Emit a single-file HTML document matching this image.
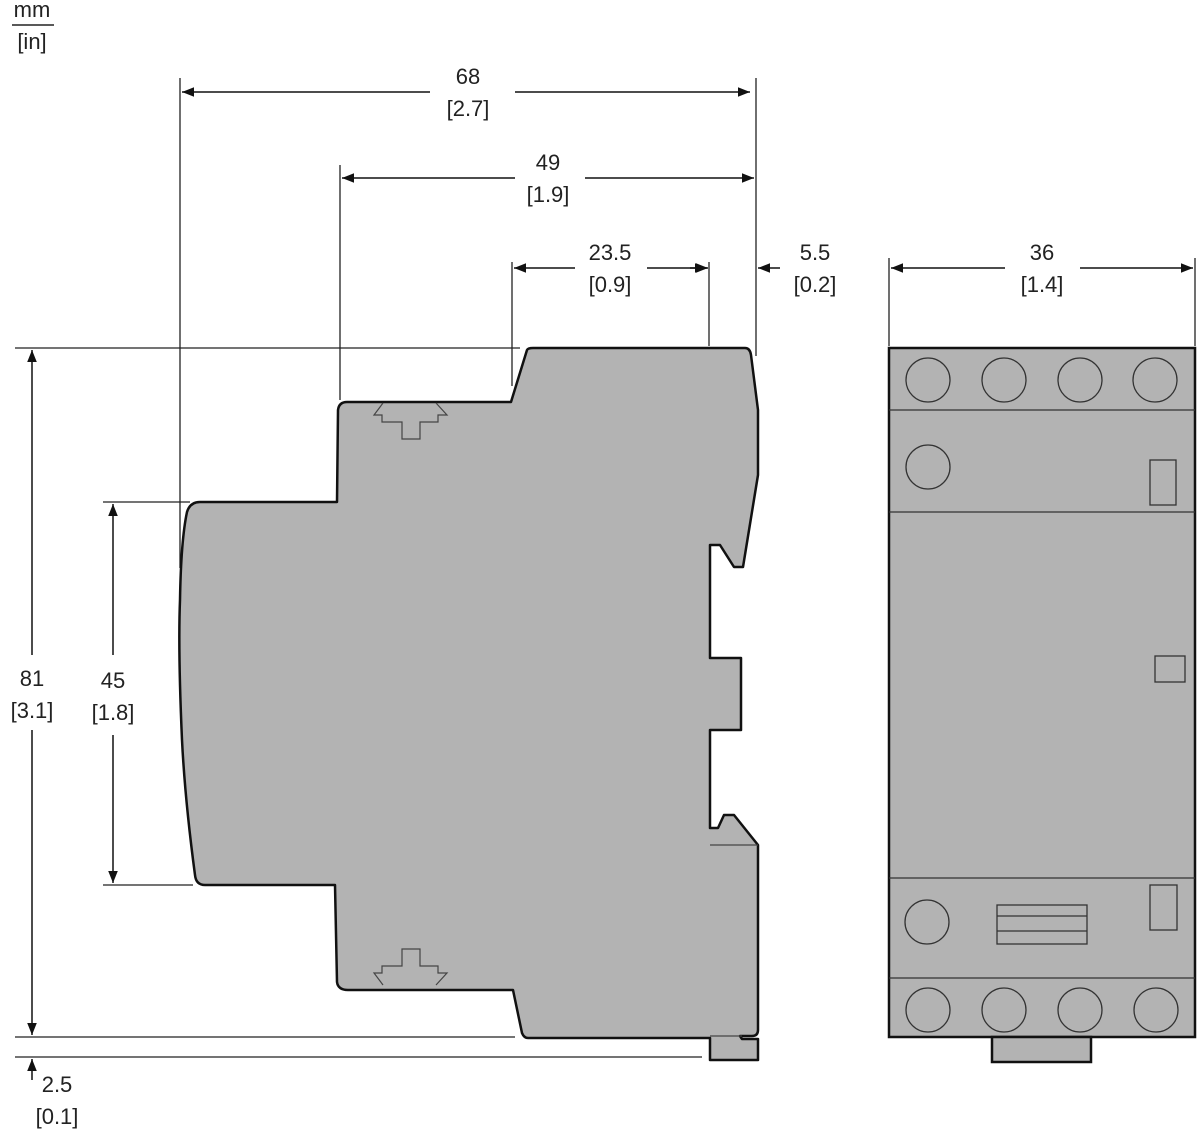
<!DOCTYPE html>
<html><head><style>
html,body{margin:0;padding:0;background:#fff;}
svg{display:block;}
text{font-family:"Liberation Sans",Arial,sans-serif;font-size:22px;fill:#222;text-anchor:middle;}
</style></head><body>
<svg width="1200" height="1140" viewBox="0 0 1200 1140" xmlns="http://www.w3.org/2000/svg">
<defs>
<marker id="a" viewBox="0 0 10 10" refX="10" refY="5" markerWidth="12" markerHeight="12" markerUnits="userSpaceOnUse" orient="auto-start-reverse"><path d="M0,1 L10,5 L0,9 z" fill="#111"/></marker>
</defs>
<!-- unit -->
<text x="32" y="17">mm</text>
<line x1="12" y1="25" x2="54" y2="25" stroke="#222" stroke-width="1.5"/>
<text x="32" y="49">[in]</text>

<!-- extension lines -->
<g stroke="#222" stroke-width="1.3" fill="none">
<line x1="180" y1="78" x2="180" y2="568"/>
<line x1="340" y1="165" x2="340" y2="400"/>
<line x1="512" y1="262" x2="512" y2="386"/>
<line x1="709" y1="262" x2="709" y2="346"/>
<line x1="756" y1="78" x2="756" y2="356"/>
<line x1="889" y1="258" x2="889" y2="346"/>
<line x1="1195" y1="258" x2="1195" y2="346"/>
<line x1="15" y1="348" x2="520" y2="348"/>
<line x1="15" y1="1037" x2="515" y2="1037"/>
<line x1="15" y1="1057" x2="702" y2="1057"/>
<line x1="103" y1="502" x2="190" y2="502"/>
<line x1="103" y1="885" x2="193" y2="885"/>
</g>
<!-- dimension lines -->
<g stroke="#111" stroke-width="1.5" fill="none">
<line x1="182" y1="92" x2="430" y2="92" marker-start="url(#a)"/>
<line x1="515" y1="92" x2="750" y2="92" marker-end="url(#a)"/>
<line x1="342" y1="178" x2="515" y2="178" marker-start="url(#a)"/>
<line x1="585" y1="178" x2="754" y2="178" marker-end="url(#a)"/>
<line x1="514" y1="268" x2="575" y2="268" marker-start="url(#a)"/>
<line x1="647" y1="268" x2="707" y2="268" marker-end="url(#a)"/>
<line x1="690" y1="268" x2="708" y2="268" marker-end="url(#a)"/>
<line x1="780" y1="268" x2="758" y2="268" marker-end="url(#a)"/>
<line x1="891" y1="268" x2="1005" y2="268" marker-start="url(#a)"/>
<line x1="1080" y1="268" x2="1193" y2="268" marker-end="url(#a)"/>
<line x1="32" y1="350" x2="32" y2="655" marker-start="url(#a)"/>
<line x1="32" y1="730" x2="32" y2="1035" marker-end="url(#a)"/>
<line x1="32" y1="1080" x2="32" y2="1059" marker-end="url(#a)"/>
<line x1="113" y1="504" x2="113" y2="655" marker-start="url(#a)"/>
<line x1="113" y1="735" x2="113" y2="883" marker-end="url(#a)"/>
</g>
<text x="468" y="84">68</text><text x="468" y="116">[2.7]</text>
<text x="548" y="170">49</text><text x="548" y="202">[1.9]</text>
<text x="610" y="260">23.5</text><text x="610" y="292">[0.9]</text>
<text x="815" y="260">5.5</text><text x="815" y="292">[0.2]</text>
<text x="1042" y="260">36</text><text x="1042" y="292">[1.4]</text>
<text x="32" y="686">81</text><text x="32" y="718">[3.1]</text>
<text x="113" y="688">45</text><text x="113" y="720">[1.8]</text>
<text x="57" y="1092">2.5</text><text x="57" y="1124">[0.1]</text>

<!-- side view -->
<path d="M527,350 Q528,348 533,348 L745,348 Q750,348 751,355 L758,410 L758,475 L743,567 L734,567 L720,545 L710,545 L710,658 L741,658 L741,730 L710,730 L710,828 L718,828 L724,815 L734,815 L758,845 L758,1030 Q758,1036 752,1036 L740,1036 L742,1039 L758,1039 L758,1060 L710,1060 L710,1038 L528,1038 Q524,1038 522,1033 L513,990 L348,990 Q338,990 337,982 L335,885 L205,885 Q196,885 195,875 Q185,800 182,740 Q178,650 180,600 Q181,540 187,512 Q190,502 200,502 L337,502 L338,410 Q339,402 347,402 L511,402 Z" fill="#b3b3b3" stroke="#111" stroke-width="2.5" stroke-linejoin="round"/>
<g stroke="#444" stroke-width="1.2" fill="none">
<polyline points="383,403 374,415 382,415 382,422 402,422 402,439 420,439 420,422 438,422 438,415 447,415 436,403"/>
<polyline points="383,985 374,973 382,973 382,966 402,966 402,949 420,949 420,966 438,966 438,973 447,973 436,985"/>
<polyline points="710,845 758,845"/>
<polyline points="710,1036 742,1036"/>
</g>

<!-- front view -->
<rect x="889" y="348" width="306" height="689" fill="#b3b3b3" stroke="#111" stroke-width="2.5"/>
<rect x="992" y="1037" width="99" height="25" fill="#b3b3b3" stroke="#111" stroke-width="2.5"/>
<g stroke="#333" stroke-width="1.3" fill="none">
<line x1="889" y1="410" x2="1195" y2="410"/>
<line x1="889" y1="512" x2="1195" y2="512"/>
<line x1="889" y1="878" x2="1195" y2="878"/>
<line x1="889" y1="978" x2="1195" y2="978"/>
<circle cx="928" cy="380" r="22"/><circle cx="1004" cy="380" r="22"/><circle cx="1080" cy="380" r="22"/><circle cx="1155" cy="380" r="22"/>
<circle cx="928" cy="467" r="22"/>
<rect x="1150" y="460" width="26" height="45"/>
<rect x="1155" y="656" width="30" height="26"/>
<circle cx="927" cy="922" r="22"/>
<rect x="997" y="905" width="90" height="39"/>
<line x1="997" y1="916" x2="1087" y2="916"/>
<line x1="997" y1="931" x2="1087" y2="931"/>
<rect x="1150" y="885" width="27" height="45"/>
<circle cx="928" cy="1010" r="22"/><circle cx="1004" cy="1010" r="22"/><circle cx="1080" cy="1010" r="22"/><circle cx="1156" cy="1010" r="22"/>
</g>
</svg>
</body></html>
